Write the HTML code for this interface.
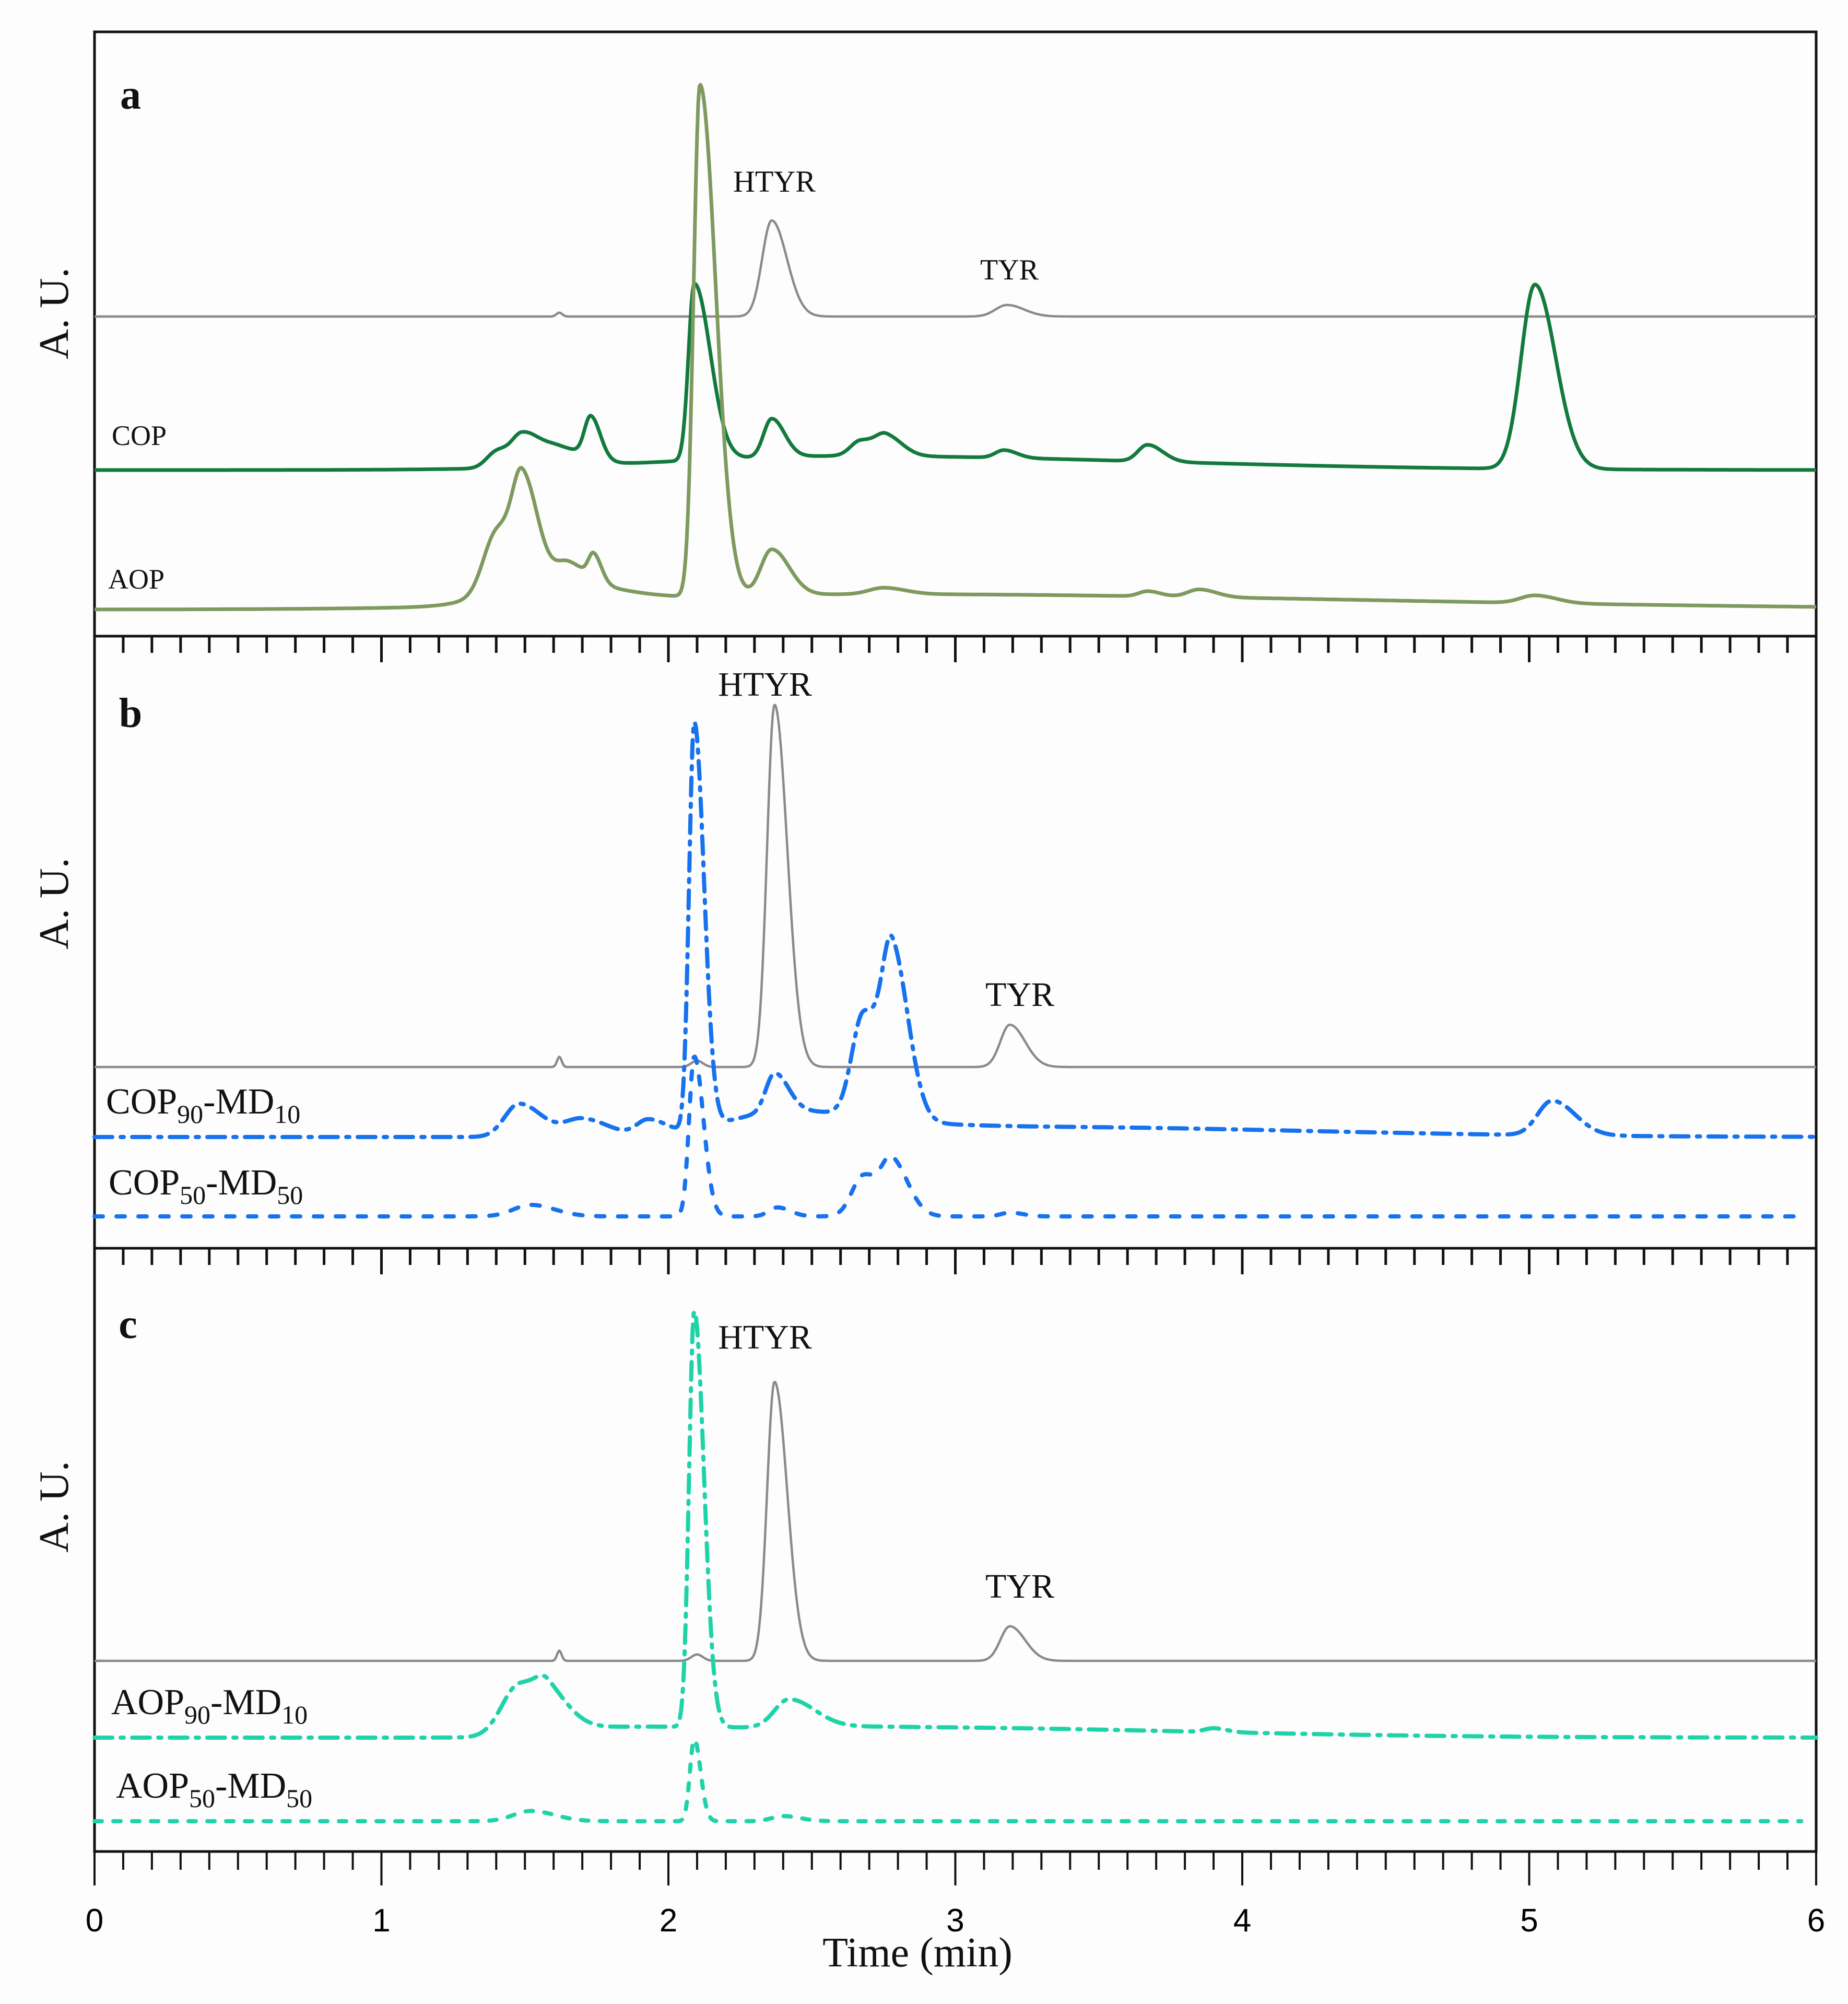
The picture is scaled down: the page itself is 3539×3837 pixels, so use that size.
<!DOCTYPE html>
<html><head><meta charset="utf-8"><style>
html,body{margin:0;padding:0;background:#fdfdfd;}
svg{display:block;font-family:"Liberation Serif",serif;}
</style></head><body>
<svg id="chart" xmlns="http://www.w3.org/2000/svg" width="3539" height="3837" viewBox="0 0 3539 3837">
<rect x="0" y="0" width="3539" height="3837" fill="#fdfdfd"/>
<g id="frames"></g>
<g id="series"></g>
<g id="labels"></g>
</svg>
<script>
// ---- axis data ----
const xTicks = [0,1,2,3,4,5,6];
const xTickLabels = ["0","1","2","3","4","5","6"];
// ---- series data: peak times (min), heights (AU, display units), widths (min), tails ----
const stdA_t=[1.62,2.36,3.18], stdA_h=[3,75,9], stdA_w=[0.01,0.033,0.04], stdA_tail=[0,0.6,0.5];
const cop_t=[1.40,1.49,1.62,1.73,2.09,2.36,2.67,2.76,3.17,3.67,5.02,2.6], cop_h=[12,26,14,32,138,30,12,15,6,13,144,11], cop_w=[0.035,0.04,0.06,0.022,0.02,0.028,0.035,0.035,0.03,0.033,0.048,0.6], cop_tail=[0,0.5,0.5,0.5,1.8,0.6,0.5,0.6,0.5,0.6,0.5,0.8];
const aop_t=[1.40,1.49,1.65,1.74,2.11,2.36,2.75,3.67,3.85,5.02,2.7,1.55], aop_h=[45,82,14,20,400,36,5,4,6,6,12,20], aop_w=[0.045,0.035,0.04,0.018,0.022,0.038,0.05,0.03,0.04,0.05,0.8,0.15], aop_tail=[0,0.5,0.5,0.5,1.5,0.6,0.5,0.5,0.5,0.5,1.2,0.5];
const stdB_t=[1.62,2.10,2.37,3.19], stdB_h=[8,5,283,33], stdB_w=[0.008,0.02,0.026,0.033], stdB_tail=[0,0,0.7,0.6];
const b90_t=[1.48,1.70,1.93,2.09,2.37,2.68,2.78,5.08,2.4,3.2], b90_h=[26,14,12,318,30,80,130,27,18,8], b90_w=[0.05,0.06,0.04,0.018,0.03,0.04,0.035,0.05,0.2,0.5], b90_tail=[0.6,0.5,0.5,0.9,0.6,0.3,0.6,0.6,0.5,1];
const b50_t=[1.52,2.09,2.38,2.68,2.78,3.19], b50_h=[9,125,7,32,42,3], b50_w=[0.06,0.018,0.03,0.04,0.035,0.03], b50_tail=[0.4,0.8,0.5,0.3,0.6,0.5];
const stdC_t=[1.62,2.10,2.37,3.19], stdC_h=[8,5,218,27], stdC_w=[0.008,0.02,0.026,0.033], stdC_tail=[0,0,0.7,0.6];
const c90_t=[1.48,1.58,1.85,2.09,2.42,2.8,3.9], c90_h=[40,25,8,325,22,8,3], c90_w=[0.06,0.04,0.2,0.018,0.05,0.4,0.03], c90_tail=[0.3,1.0,1,0.9,0.8,1.5,0.5];
const c50_t=[1.52,2.09,2.40], c50_h=[8,64,4], c50_w=[0.06,0.015,0.04], c50_tail=[0.4,0.5,0.5];

// ---- axis functions ----
const X0=181, X1=3478, SY=2.452;
function xs(t){return X0+(t/6)*(X1-X0);}
function ys(base,v){return base-v*SY;}
const NS="http://www.w3.org/2000/svg";
function mk(tag,parent){const e=document.createElementNS(NS,tag);parent.appendChild(e);return e;}
function signal(t,T,H,W,K){let s=0;for(let i=0;i<T.length;i++){const d=t-T[i];const w=d>0?W[i]*(1+K[i]):W[i];s+=H[i]*Math.exp(-0.5*(d/w)*(d/w));}return s;}

const frames=document.getElementById('frames');
const seriesG=document.getElementById('series');
const labels=document.getElementById('labels');
const panels=[{top:61,bot:1218},{top:1218,bot:2390},{top:2390,bot:3545}];
panels.forEach((p,i)=>{
  const r=mk('rect',frames);
  r.setAttribute('x',X0);r.setAttribute('y',p.top);r.setAttribute('width',X1-X0);r.setAttribute('height',p.bot-p.top);
  r.setAttribute('fill','none');r.setAttribute('stroke','#111');r.setAttribute('stroke-width','5');
  
  
});
[1218,2390].forEach((yy,k)=>{
  for(let j=0;j<=60;j++){const t=j/10;const l=mk('line',frames);
    l.setAttribute('x1',xs(t));l.setAttribute('x2',xs(t));l.setAttribute('y1',yy);l.setAttribute('y2',yy+(j%10===0?50:32));
    l.setAttribute('stroke','#111');l.setAttribute('stroke-width','5');
    
    }
});
for(let j=0;j<=60;j++){const t=j/10;const l=mk('line',frames);
  l.setAttribute('x1',xs(t));l.setAttribute('x2',xs(t));l.setAttribute('y1',3545);l.setAttribute('y2',3545+(j%10===0?65:35));
  l.setAttribute('stroke','#111');l.setAttribute('stroke-width','4');
  
  }
xTicks.forEach((v,i)=>{const tx=mk('text',labels);tx.setAttribute('x',xs(v));tx.setAttribute('y',3698);
  tx.setAttribute('text-anchor','middle');tx.setAttribute('font-family','Liberation Sans, sans-serif');tx.setAttribute('font-size','62');tx.textContent=xTickLabels[i];
  
  });

function draw(name,base,T,H,W,K,color,width,dash,tEnd){
  let d='';for(let t=0;t<=tEnd+1e-9;t+=0.004){const v=signal(t,T,H,W,K);d+=(d?'L':'M')+xs(t).toFixed(1)+','+ys(base,v).toFixed(1);}
  const p=mk('path',seriesG);p.setAttribute('d',d);p.setAttribute('fill','none');p.setAttribute('stroke',color);
  p.setAttribute('stroke-width',width);p.setAttribute('stroke-linejoin','round');
  if(dash){p.setAttribute('stroke-dasharray',dash);p.setAttribute('stroke-linecap','round');}
  
  
}
draw('standard-a-line',606,stdA_t,stdA_h,stdA_w,stdA_tail,'#8a8a8a',4.5,null,6);
draw('cop-line',900,cop_t,cop_h,cop_w,cop_tail,'#137a3e',7,null,6);
draw('aop-line',1167,aop_t,aop_h,aop_w,aop_tail,'#7e9a5e',7,null,6);
draw('standard-b-line',2043,stdB_t,stdB_h,stdB_w,stdB_tail,'#8a8a8a',4.5,null,6);
draw('cop90-md10-line',2177,b90_t,b90_h,b90_w,b90_tail,'#1672ee',8,'34 16 6 16',6);
draw('cop50-md50-line',2329,b50_t,b50_h,b50_w,b50_tail,'#1672ee',8,'16 26',5.95);
draw('standard-c-line',3180,stdC_t,stdC_h,stdC_w,stdC_tail,'#8a8a8a',4.5,null,6);
draw('aop90-md10-line',3327,c90_t,c90_h,c90_w,c90_tail,'#1fd3a8',8,'34 16 6 16',6);
draw('aop50-md50-line',3487,c50_t,c50_h,c50_w,c50_tail,'#1fd3a8',8,'14 22',5.95);
</script>
<svg style="position:absolute;left:0;top:0" width="3539" height="3837">
<g font-family="Liberation Serif, serif" fill="#111">
<text x="250" y="208" font-size="80" font-weight="bold" text-anchor="middle">a</text>
<text x="250" y="1392" font-size="80" font-weight="bold" text-anchor="middle">b</text>
<text x="245" y="2562" font-size="80" font-weight="bold" text-anchor="middle">c</text>
<text transform="translate(130,600) rotate(-90)" font-size="80" text-anchor="middle">A. U.</text>
<text transform="translate(130,1730) rotate(-90)" font-size="80" text-anchor="middle">A. U.</text>
<text transform="translate(130,2885) rotate(-90)" font-size="80" text-anchor="middle">A. U.</text>
<text x="1483" y="367" font-size="58" text-anchor="middle">HTYR</text>
<text x="1933" y="535" font-size="56" text-anchor="middle">TYR</text>
<text x="214" y="852" font-size="54">COP</text>
<text x="207" y="1127" font-size="54">AOP</text>
<text x="1465" y="1332" font-size="66" text-anchor="middle">HTYR</text>
<text x="1953" y="1926" font-size="66" text-anchor="middle">TYR</text>
<text x="203" y="2132" font-size="70">COP<tspan font-size="50" dy="18">90</tspan><tspan dy="-18">-MD</tspan><tspan font-size="50" dy="18">10</tspan></text>
<text x="208" y="2287" font-size="70">COP<tspan font-size="50" dy="18">50</tspan><tspan dy="-18">-MD</tspan><tspan font-size="50" dy="18">50</tspan></text>
<text x="1465" y="2582" font-size="66" text-anchor="middle">HTYR</text>
<text x="1953" y="3059" font-size="66" text-anchor="middle">TYR</text>
<text x="213" y="3282" font-size="70">AOP<tspan font-size="50" dy="18">90</tspan><tspan dy="-18">-MD</tspan><tspan font-size="50" dy="18">10</tspan></text>
<text x="222" y="3442" font-size="70">AOP<tspan font-size="50" dy="18">50</tspan><tspan dy="-18">-MD</tspan><tspan font-size="50" dy="18">50</tspan></text>
<text x="1757" y="3765" font-size="80" text-anchor="middle">Time (min)</text>
</g>
</svg>
</body></html>
